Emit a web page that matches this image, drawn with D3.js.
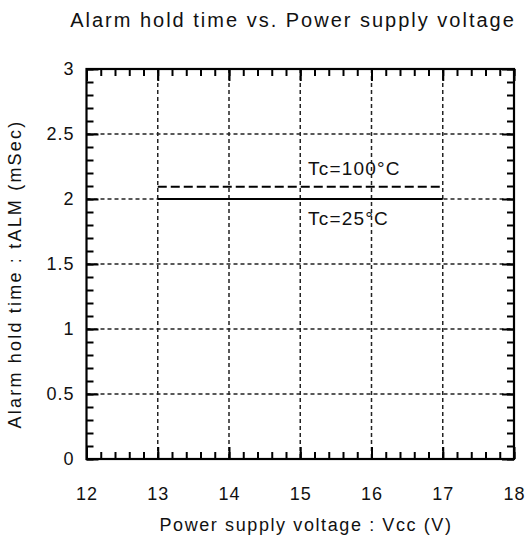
<!DOCTYPE html>
<html><head><meta charset="utf-8">
<script src="https://cdn.jsdelivr.net/npm/d3@7"></script>
<style>
body{margin:0;background:#fff;}
text{font-family:"Liberation Sans",Arial,sans-serif;fill:#111;}
</style></head>
<body><svg id="c" width="528" height="538"></svg>
<script>
const title = "Alarm hold time vs. Power supply voltage";
const xTitle = "Power supply voltage : Vcc (V)";
const yTitle = "Alarm hold time : tALM (mSec)";
const xTicks = [12,13,14,15,16,17,18];
const yTicks = [0,0.5,1,1.5,2,2.5,3];
const seriesNames = ["Tc=100°C","Tc=25°C"];
const vcc = [13,17];
const t100 = [2.095,2.095];
const t25 = [2.0,2.0];

const W=528,H=538, L=86.5, R=514, T=69, B=459;
const svg=d3.select("#c");
const x=d3.scaleLinear().domain([12,18]).range([L,R]);
const y=d3.scaleLinear().domain([0,3]).range([B,T]);

// grid
const g=svg.append("g");
g.selectAll(".gx").data(xTicks.slice(1,-1)).join("line")
 .attr("x1",d=>x(d)).attr("x2",d=>x(d)).attr("y1",T).attr("y2",B)
 .attr("stroke","#222").attr("stroke-width",1.5).attr("stroke-dasharray","4,3");
g.selectAll(".gy").data(yTicks.slice(1,-1)).join("line")
 .attr("y1",d=>y(d)).attr("y2",d=>y(d)).attr("x1",L).attr("x2",R)
 .attr("stroke","#222").attr("stroke-width",1.5).attr("stroke-dasharray","4,3");

// minor ticks
const xMinor=d3.range(12,18.001,0.2).map(v=>+v.toFixed(1));
const yMinor=d3.range(0,3.001,0.1).map(v=>+v.toFixed(1));
function styleAxis(sel){sel.select(".domain").remove();sel.selectAll(".tick line").attr("stroke","#000").attr("stroke-width",2);}
svg.append("g").attr("transform",`translate(0,${B})`).call(d3.axisBottom(x).tickValues(xMinor).tickSize(-7).tickFormat("")).call(styleAxis);
svg.append("g").attr("transform",`translate(0,${T})`).call(d3.axisTop(x).tickValues(xMinor).tickSize(-7).tickFormat("")).call(styleAxis);
svg.append("g").attr("transform",`translate(${L},0)`).call(d3.axisLeft(y).tickValues(yMinor).tickSize(-7).tickFormat("")).call(styleAxis);
svg.append("g").attr("transform",`translate(${R},0)`).call(d3.axisRight(y).tickValues(yMinor).tickSize(-7).tickFormat("")).call(styleAxis);
// major ticks
const ax1=svg.append("g").attr("transform",`translate(0,${B})`).call(d3.axisBottom(x).tickValues(xTicks).tickSize(-12).tickPadding(28).tickFormat(d=>String(d))).call(styleAxis);
svg.append("g").attr("transform",`translate(0,${T})`).call(d3.axisTop(x).tickValues(xTicks).tickSize(-12).tickFormat("")).call(styleAxis);
const ay1=svg.append("g").attr("transform",`translate(${L},0)`).call(d3.axisLeft(y).tickValues(yTicks).tickSize(-12).tickPadding(12).tickFormat(d=>String(d))).call(styleAxis);
svg.append("g").attr("transform",`translate(${R},0)`).call(d3.axisRight(y).tickValues(yTicks).tickSize(-12).tickFormat("")).call(styleAxis);
[ax1,ay1].forEach(a=>a.selectAll("text").attr("font-size",18).attr("fill","#111").style("font-family","'Liberation Sans',Arial,sans-serif").style("letter-spacing","1px"));

// frame
svg.append("rect").attr("x",L).attr("y",T).attr("width",R-L).attr("height",B-T)
 .attr("fill","none").attr("stroke","#000").attr("stroke-width",2.2);

// data lines
const line=d3.line().x(d=>x(d[0])).y(d=>y(d[1]));
svg.append("path").attr("d",line(vcc.map((v,i)=>[v,t25[i]]))).attr("fill","none").attr("stroke","#000").attr("stroke-width",2);
svg.append("path").attr("d",line(vcc.map((v,i)=>[v,t100[i]]))).attr("fill","none").attr("stroke","#000").attr("stroke-width",2).attr("stroke-dasharray","9,4");

// series labels
svg.append("text").attr("x",308).attr("y",175).attr("font-size",19).style("letter-spacing","1.2px").text(seriesNames[0]);
svg.append("text").attr("x",308).attr("y",225).attr("font-size",19).style("letter-spacing","1.2px").text(seriesNames[1]);

// titles
svg.append("text").attr("x",293).attr("y",27).attr("text-anchor","middle").attr("font-size",20).style("letter-spacing","2px").text(title);
svg.append("text").attr("x",306).attr("y",531).attr("text-anchor","middle").attr("font-size",18).style("letter-spacing","1.6px").text(xTitle);
svg.append("text").attr("transform","translate(21,274) rotate(-90)").attr("text-anchor","middle").attr("font-size",18).style("letter-spacing","2.2px").text(yTitle);
</script></body></html>
